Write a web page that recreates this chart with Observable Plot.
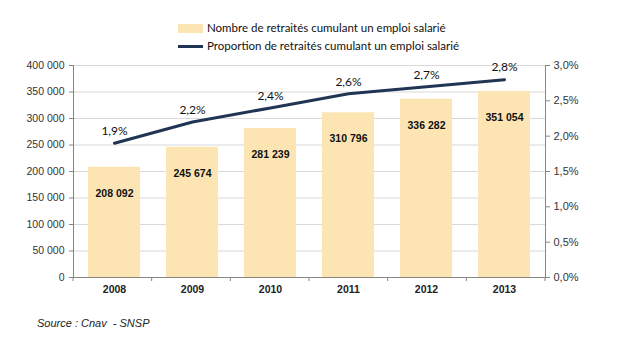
<!DOCTYPE html>
<html>
<head>
<meta charset="utf-8">
<script src="https://cdn.jsdelivr.net/npm/d3@7"></script>
<script src="https://cdn.jsdelivr.net/npm/@observablehq/plot@0.6"></script>
<style>
  body { margin: 0; background: #fff; }
  #wrap { position: relative; width: 634px; height: 340px; overflow: hidden; }
  #chart { position: absolute; left: 0; top: 0; }
  .leg { position: absolute; font-family: "Lato", sans-serif; font-size: 11.5px; color: #111; white-space: nowrap; line-height: 14px; }
  .sw { position: absolute; }
  #source { position: absolute; left: 37px; top: 317px; font-family: "Liberation Sans", Arial, sans-serif; font-style: italic; font-size: 11px; color: #222; white-space: pre; }
</style>
</head>
<body>
<div id="wrap">
  <div id="chart"></div>
  <div class="sw" id="sw1"></div>
  <div class="sw" id="sw2"></div>
  <div class="leg" id="leg1"></div>
  <div class="leg" id="leg2"></div>
  <div id="source"></div>
</div>
<script>
const years = ["2008", "2009", "2010", "2011", "2012", "2013"];
const counts = [208092, 245674, 281239, 310796, 336282, 351054];
const shares = [1.9, 2.2, 2.4, 2.6, 2.7, 2.8];
const leftTicks = [0, 50000, 100000, 150000, 200000, 250000, 300000, 350000, 400000];
const rightTicks = [0, 0.5, 1.0, 1.5, 2.0, 2.5, 3.0];
const seriesNames = ["Nombre de retraités cumulant un emploi salarié", "Proportion de retraités cumulant un emploi salarié"];
const sourceText = "Source : Cnav  - SNSP";

const barColor = "#FDE5B3";
const lineColor = "#1F3553";
const axisColor = "#868686";
const yMax = 400000;
const pctMax = 3.0;

const data = years.map((y, i) => ({year: y, count: counts[i], share: shares[i]}));
const fr = d3.formatLocale({decimal: ",", thousands: "\u00a0", grouping: [3], currency: ["", " €"]});
const fmtInt = fr.format(",d");
const fmtPct = v => v.toFixed(1).replace(".", ",") + "%";
const toY = p => p / pctMax * yMax;

function boundaryTicks(index, scales, values, dim) {
  const g = d3.create("svg:g").attr("stroke", axisColor);
  const w = dim.width - dim.marginLeft - dim.marginRight;
  const y0 = scales.y(0);
  for (let k = 0; k <= years.length; k++) {
    const x = dim.marginLeft + k * w / years.length;
    g.append("line").attr("x1", x).attr("x2", x).attr("y1", y0).attr("y2", y0 + 4);
  }
  return g.node();
}

const chart = Plot.plot({
  width: 634,
  height: 340,
  marginTop: 65,
  marginBottom: 63,
  marginLeft: 73,
  marginRight: 89,
  style: {fontFamily: "'Liberation Sans', Arial, sans-serif", fontSize: "11px", background: "#fff", color: "#333"},
  x: {domain: years, paddingInner: 0.33, paddingOuter: 0.165, axis: null, label: null},
  y: {domain: [0, yMax], axis: null, label: null},
  marks: [
    Plot.ruleY(leftTicks, {stroke: "#D9D9D9"}),
    Plot.barY(data, {x: "year", y: "count", fill: barColor}),
    Plot.frame({anchor: "left", stroke: axisColor}),
    Plot.frame({anchor: "right", stroke: axisColor}),
    Plot.ruleY([0], {stroke: axisColor}),
    boundaryTicks,
    Plot.axisY({anchor: "left", label: null, ticks: leftTicks, tickSize: 4, tickPadding: 5, tickFormat: fmtInt, stroke: axisColor, fill: "#333", fontSize: 10.5}),
    Plot.axisY({anchor: "right", label: null, ticks: rightTicks.map(toY), tickSize: 4, tickPadding: 4, tickFormat: v => fmtPct(v / yMax * pctMax), stroke: axisColor, fill: "#333", fontSize: 11}),
    Plot.axisX({label: null, tickSize: 0, tickPadding: 8, fontWeight: "bold", fontSize: 10.5, fill: "#222"}),
    Plot.text(data, {x: "year", y: "count", text: d => fmtInt(d.count), dy: 26, fontWeight: "bold", fontSize: 10.5, fill: "#111"}),
    Plot.lineY(data, {x: "year", y: d => toY(d.share), stroke: lineColor, strokeWidth: 3}),
    Plot.text(data, {x: "year", y: d => toY(d.share), text: d => fmtPct(d.share), dy: -12, fontFamily: "Lato, sans-serif", fontSize: 12, fill: "#111"})
  ]
});
document.getElementById("chart").appendChild(chart);

const sw1 = document.getElementById("sw1");
Object.assign(sw1.style, {left: "178px", top: "24px", width: "25px", height: "9px", background: barColor});
const sw2 = document.getElementById("sw2");
Object.assign(sw2.style, {left: "178px", top: "44.5px", width: "25px", height: "3px", background: lineColor});
const leg1 = document.getElementById("leg1");
leg1.textContent = seriesNames[0];
Object.assign(leg1.style, {left: "207px", top: "21px"});
const leg2 = document.getElementById("leg2");
leg2.textContent = seriesNames[1];
Object.assign(leg2.style, {left: "207px", top: "39px"});
document.getElementById("source").textContent = sourceText;
</script>
</body>
</html>
